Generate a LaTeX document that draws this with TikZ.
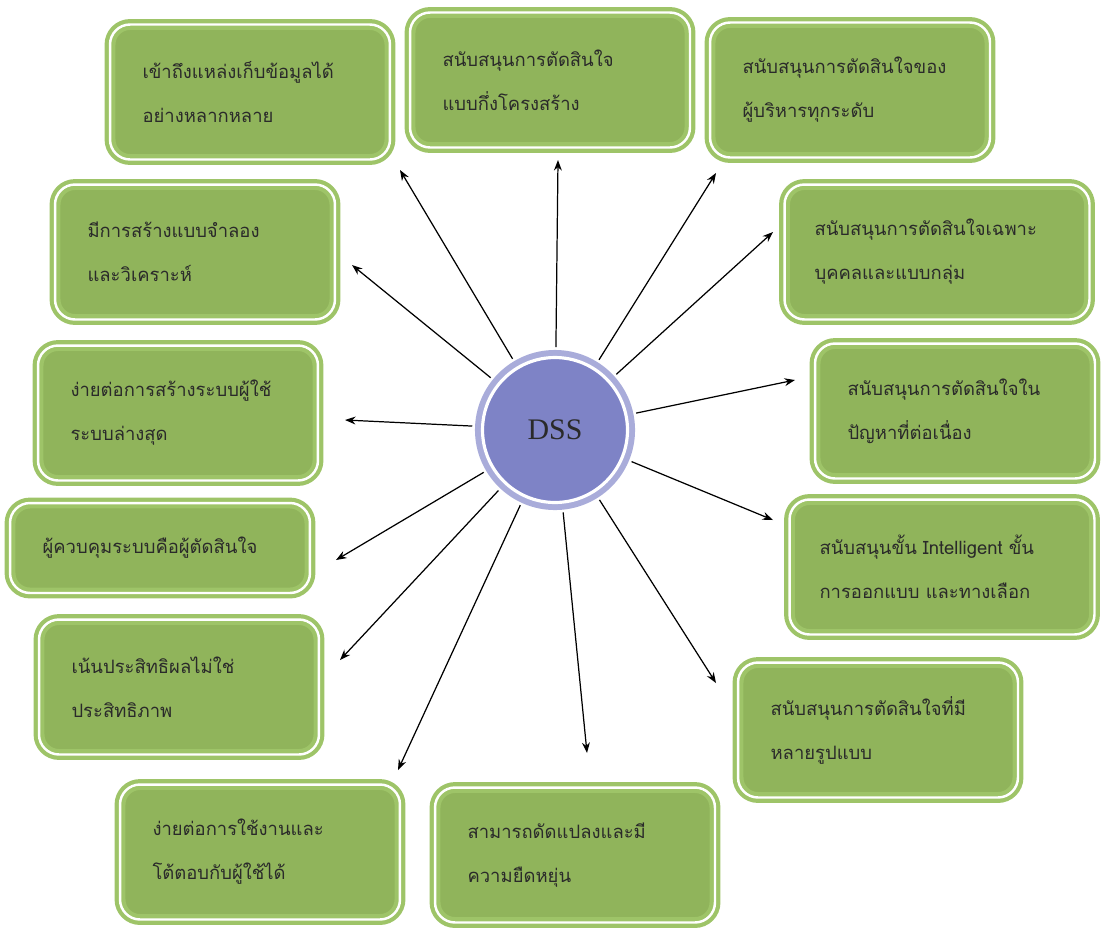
\documentclass[tikz,border=0pt]{standalone}
\usepackage{fontspec}
\newfontfamily\thai[Script=Thai]{Loma}
\newfontfamily\dssfont{Liberation Serif}
\usetikzlibrary{arrows.meta}
\definecolor{boxfill}{HTML}{90B45B}
\definecolor{boxedge}{HTML}{9EC468}
\definecolor{dssfill}{HTML}{7E83C6}
\definecolor{dssedge}{HTML}{A9ACDA}
\definecolor{ink}{HTML}{2A2A2A}
\begin{document}
\begin{tikzpicture}[x=0.02cm, y=-0.02cm]
      \tikzset{feat/.style={draw=boxedge, double=white, double distance=1.4pt, line width=2.4pt, fill=boxfill, rounded corners=0.4cm, minimum height=2.7cm, text width=4.3cm, inner xsep=0.65cm, align=left, text=ink, font=\thai\fontsize{10.5}{25}\selectfont}}
      \tikzset{wide/.style={text width=4.9cm, inner xsep=0.6cm}}
      \tikzset{dss/.style={circle, fill=dssfill, draw=white, line width=1.8pt, minimum size=2.9cm, preaction={draw=dssedge, line width=8.6pt}, text=ink, font=\dssfont\fontsize{17}{20}\selectfont}}
      \tikzset{link/.style={-{Stealth[length=6pt, width=4.5pt]}, line width=0.7pt, shorten <=5pt}}
      \useasboundingbox (0,0) rectangle (1101,927);
%% Centre
      	\node[dss] (dss) at (555,430) {DSS};
%% Boxes
      	\node[feat] (f1) at (250,92) {เข้าถึงแหล่งเก็บข้อมูลได้\\อย่างหลากหลาย};
      	\node[feat] (f2) at (550,80) {สนับสนุนการตัดสินใจ\\แบบกึ่งโครงสร้าง};
      	\node[feat] (f3) at (850,90) {สนับสนุนการตัดสินใจของ\\ผู้บริหารทุกระดับ};
      	\node[feat] (f4) at (195,252) {มีการสร้างแบบจำลอง\\และวิเคราะห์};
      	\node[feat, wide] (f5) at (937,252) {สนับสนุนการตัดสินใจเฉพาะ\\บุคคลและแบบกลุ่ม};
      	\node[feat] (f6) at (178,413) {ง่ายต่อการสร้างระบบผู้ใช้\\ระบบล่างสุด};
      	\node[feat] (f7) at (955,411) {สนับสนุนการตัดสินใจใน\\ปัญหาที่ต่อเนื่อง};
      	\node[feat, text width=4.7cm, minimum height=1.8cm] (f8) at (160,548) {ผู้ควบคุมระบบคือผู้ตัดสินใจ};
      	\node[feat, wide] (f9) at (942,567) {สนับสนุนขั้น Intelligent ขั้น\\การออกแบบ และทางเลือก};
      	\node[feat] (f10) at (179,687) {เน้นประสิทธิผลไม่ใช่\\ประสิทธิภาพ};
      	\node[feat] (f11) at (878,730) {สนับสนุนการตัดสินใจที่มี\\หลายรูปแบบ};
      	\node[feat] (f12) at (260,852) {ง่ายต่อการใช้งานและ\\โต้ตอบกับผู้ใช้ได้};
      	\node[feat] (f13) at (575,855) {สามารถดัดแปลงและมี\\ความยืดหยุ่น};
%% Arrow tips
      	\coordinate (t1) at (400,170);
      	\coordinate (t2) at (558,160);
      	\coordinate (t3) at (716,173);
      	\coordinate (t4) at (352,265);
      	\coordinate (t5) at (773,232);
      	\coordinate (t6) at (345,420);
      	\coordinate (t7) at (795,380);
      	\coordinate (t8) at (336,560);
      	\coordinate (t9) at (773,520);
      	\coordinate (t10) at (340,660);
      	\coordinate (t11) at (716,683);
      	\coordinate (t12) at (398,770);
      	\coordinate (t13) at (587,753);
%Arrows
		\foreach \i in {1,...,13}
			\path (dss) edge[link] (t\i);
	\end{tikzpicture}
\end{document}
